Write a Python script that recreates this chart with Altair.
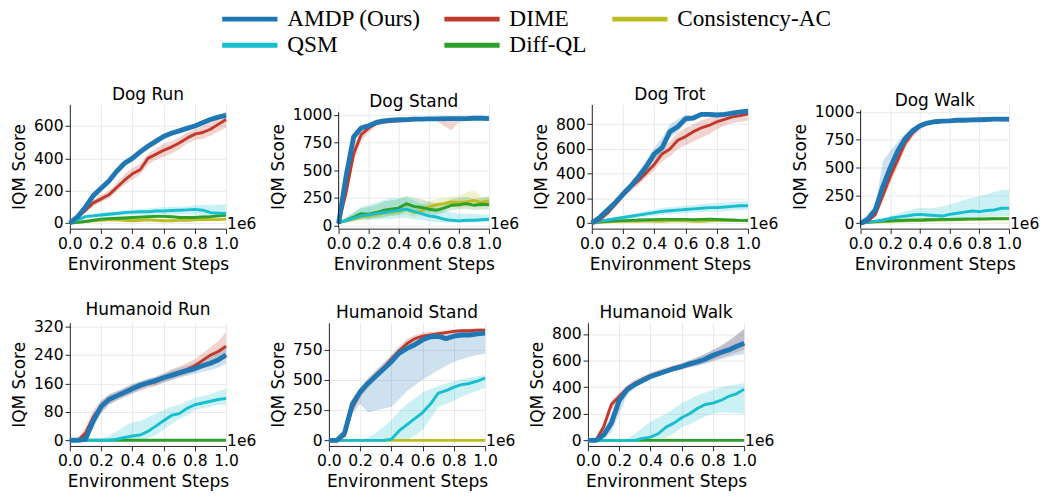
import altair as alt
import pandas as pd

STEPS = [0.0, 0.05, 0.1, 0.15, 0.2, 0.25, 0.3, 0.35, 0.4, 0.45, 0.5,
         0.55, 0.6, 0.65, 0.7, 0.75, 0.8, 0.85, 0.9, 0.95, 1.0]
X_TICKS = [0.0, 0.2, 0.4, 0.6, 0.8, 1.0]

METHODS = ["AMDP (Ours)", "DIME", "Consistency-AC", "QSM", "Diff-QL"]
COLORS = ["#1f77b4", "#c0392b", "#bcbd22", "#17becf", "#2ca02c"]
COLOR_OF = dict(zip(METHODS, COLORS))
DRAW_ORDER = ["Consistency-AC", "Diff-QL", "QSM", "DIME", "AMDP (Ours)"]
LINE_W = {"AMDP (Ours)": 5, "DIME": 3, "Consistency-AC": 3, "QSM": 3, "Diff-QL": 3}

Z = [0] * 21

# each entry: (mean, lower, upper)
DOG_RUN = {
    "AMDP (Ours)": (
        [0, 40, 100, 170, 215, 260, 320, 370, 400, 440, 475, 505, 535, 555, 570, 585, 600, 620, 640, 655, 665],
        [0, 30, 85, 150, 195, 240, 300, 350, 380, 420, 455, 488, 518, 540, 555, 570, 585, 605, 625, 640, 648],
        [0, 50, 115, 185, 230, 278, 340, 390, 420, 460, 495, 522, 552, 570, 585, 600, 615, 635, 655, 670, 685]),
    "DIME": (
        [0, 35, 80, 125, 150, 175, 220, 265, 305, 330, 400, 425, 450, 470, 495, 525, 550, 560, 580, 610, 640],
        [0, 25, 65, 105, 130, 150, 195, 235, 270, 300, 360, 390, 410, 430, 455, 490, 515, 520, 540, 565, 590],
        [0, 45, 95, 145, 175, 200, 250, 300, 340, 365, 430, 460, 490, 505, 530, 560, 580, 600, 620, 650, 690]),
    "QSM": (
        [0, 20, 40, 45, 50, 55, 60, 65, 68, 70, 70, 75, 75, 78, 80, 82, 85, 80, 65, 62, 60],
        [0, 12, 30, 35, 38, 42, 46, 50, 52, 52, 52, 55, 55, 55, 55, 55, 55, 50, 42, 40, 40],
        [0, 28, 52, 58, 64, 70, 75, 80, 84, 88, 90, 95, 98, 100, 102, 105, 110, 112, 112, 115, 115]),
    "Diff-QL": (
        [0, 5, 10, 18, 25, 28, 30, 32, 35, 37, 40, 42, 42, 40, 35, 35, 35, 38, 40, 45, 50],
        [0, 0, 3, 10, 15, 18, 20, 22, 25, 26, 28, 30, 30, 28, 25, 25, 25, 27, 30, 34, 38],
        [0, 10, 18, 26, 35, 38, 40, 43, 45, 48, 52, 54, 55, 52, 47, 46, 46, 50, 52, 56, 62]),
    "Consistency-AC": (
        [0, 5, 10, 15, 18, 20, 20, 18, 15, 18, 20, 18, 15, 15, 17, 18, 20, 22, 22, 22, 25],
        [0, 0, 4, 8, 11, 12, 12, 10, 8, 10, 12, 10, 8, 8, 10, 10, 12, 14, 14, 14, 16],
        [0, 10, 16, 22, 25, 28, 28, 26, 23, 26, 28, 26, 23, 23, 25, 26, 28, 30, 30, 30, 34]),
}

DOG_STAND = {
    "AMDP (Ours)": (
        [20, 450, 800, 880, 900, 930, 945, 950, 955, 955, 960, 960, 962, 962, 965, 965, 965, 965, 968, 968, 965],
        [15, 400, 760, 850, 880, 915, 935, 942, 948, 948, 952, 953, 955, 955, 958, 958, 958, 958, 960, 960, 958],
        [25, 500, 840, 905, 920, 945, 955, 958, 962, 962, 968, 968, 970, 970, 972, 972, 972, 972, 975, 975, 972]),
    "DIME": (
        [20, 300, 650, 820, 880, 920, 935, 940, 945, 950, 955, 958, 960, 960, 955, 960, 960, 962, 965, 965, 965],
        [15, 250, 580, 760, 840, 895, 915, 925, 930, 938, 944, 948, 950, 945, 900, 860, 935, 945, 950, 952, 952],
        [25, 350, 720, 870, 915, 940, 950, 955, 958, 960, 965, 968, 970, 970, 970, 972, 972, 975, 978, 978, 978]),
    "QSM": (
        [30, 50, 70, 90, 100, 110, 120, 130, 140, 150, 130, 110, 90, 80, 60, 50, 45, 50, 50, 55, 60],
        [25, 30, 40, 50, 55, 55, 60, 60, 70, 70, 60, 50, 40, 35, 30, 30, 28, 30, 30, 32, 35],
        [35, 80, 120, 170, 190, 210, 230, 250, 250, 250, 230, 200, 180, 160, 140, 120, 110, 110, 110, 100, 100]),
    "Diff-QL": (
        [30, 50, 80, 110, 105, 120, 140, 150, 160, 200, 175, 165, 150, 140, 160, 185, 190, 200, 185, 195, 190],
        [25, 35, 50, 70, 60, 70, 80, 90, 100, 130, 110, 110, 100, 100, 120, 140, 150, 155, 140, 150, 145],
        [35, 70, 120, 160, 170, 190, 220, 230, 240, 270, 250, 240, 220, 200, 210, 240, 250, 260, 240, 250, 260]),
    "Consistency-AC": (
        [30, 45, 60, 80, 90, 100, 115, 125, 130, 150, 120, 135, 170, 190, 200, 215, 210, 215, 230, 210, 225],
        [25, 35, 45, 55, 65, 70, 80, 90, 95, 105, 80, 95, 130, 150, 160, 170, 165, 170, 180, 170, 180],
        [35, 60, 80, 110, 120, 135, 150, 165, 175, 200, 180, 190, 220, 240, 250, 260, 270, 300, 320, 260, 265]),
}

DOG_TROT = {
    "AMDP (Ours)": (
        [0, 45, 105, 165, 235, 300, 375, 460, 560, 610, 740, 780, 845, 850, 880, 880, 875, 880, 890, 900, 905],
        [0, 35, 90, 145, 210, 270, 335, 420, 510, 560, 690, 740, 810, 830, 860, 862, 860, 865, 875, 885, 890],
        [0, 55, 120, 185, 260, 335, 420, 510, 610, 690, 800, 840, 875, 875, 895, 895, 892, 895, 905, 912, 918]),
    "DIME": (
        [0, 25, 80, 150, 225, 290, 345, 410, 475, 560, 600, 670, 700, 740, 770, 790, 820, 840, 860, 870, 885],
        [0, 15, 65, 130, 200, 260, 310, 370, 430, 500, 540, 600, 630, 660, 690, 720, 760, 790, 810, 820, 830],
        [0, 35, 95, 170, 250, 320, 380, 450, 520, 610, 660, 730, 770, 800, 830, 850, 870, 885, 900, 905, 915]),
    "QSM": (
        [0, 15, 25, 35, 45, 55, 65, 75, 85, 95, 100, 105, 110, 115, 120, 125, 125, 130, 135, 140, 140],
        [0, 8, 15, 22, 30, 38, 45, 52, 60, 68, 72, 76, 80, 84, 88, 92, 92, 95, 100, 105, 105],
        [0, 22, 35, 48, 60, 72, 85, 98, 110, 122, 128, 134, 140, 146, 152, 158, 160, 165, 170, 175, 180]),
    "Diff-QL": (
        [0, 10, 15, 18, 20, 22, 25, 27, 28, 30, 30, 30, 30, 28, 30, 32, 30, 28, 25, 22, 20],
        [0, 5, 9, 12, 13, 15, 17, 19, 20, 21, 21, 21, 21, 20, 21, 23, 21, 20, 18, 15, 13],
        [0, 15, 21, 24, 27, 29, 33, 35, 36, 39, 39, 39, 39, 36, 39, 41, 39, 36, 32, 29, 27]),
    "Consistency-AC": (
        [0, 5, 10, 12, 15, 15, 15, 18, 15, 15, 18, 20, 18, 15, 15, 18, 20, 20, 22, 20, 25],
        [0, 1, 5, 7, 9, 9, 9, 11, 9, 9, 11, 13, 11, 9, 9, 11, 13, 13, 15, 13, 17],
        [0, 9, 15, 17, 21, 21, 21, 25, 21, 21, 25, 27, 25, 21, 21, 25, 27, 27, 29, 27, 33]),
}

DOG_WALK = {
    "AMDP (Ours)": (
        [0, 40, 125, 330, 500, 650, 760, 830, 875, 900, 912, 918, 920, 925, 925, 928, 930, 932, 935, 935, 935],
        [0, 30, 100, 260, 420, 580, 710, 800, 855, 888, 902, 910, 912, 917, 917, 920, 922, 924, 927, 927, 927],
        [0, 50, 160, 560, 650, 730, 800, 860, 895, 912, 922, 926, 928, 933, 933, 936, 938, 940, 943, 943, 943]),
    "DIME": (
        [0, 20, 80, 250, 420, 570, 720, 810, 870, 900, 912, 918, 920, 925, 925, 928, 930, 932, 935, 930, 930],
        [0, 12, 60, 200, 360, 510, 670, 770, 840, 885, 902, 910, 912, 917, 917, 920, 922, 924, 927, 918, 915],
        [0, 28, 100, 300, 480, 630, 770, 850, 900, 915, 922, 926, 928, 933, 933, 936, 938, 940, 943, 940, 940]),
    "QSM": (
        [0, 10, 20, 30, 45, 55, 65, 75, 80, 75, 70, 65, 80, 90, 100, 110, 105, 115, 120, 135, 135],
        [0, 5, 12, 18, 25, 30, 35, 40, 42, 40, 38, 36, 42, 48, 52, 56, 55, 58, 60, 65, 65],
        [0, 18, 30, 45, 65, 85, 105, 125, 140, 135, 140, 150, 170, 190, 210, 230, 240, 260, 280, 300, 300]),
    "Diff-QL": (
        [0, 10, 15, 20, 22, 25, 28, 30, 30, 32, 33, 35, 35, 37, 38, 40, 40, 40, 42, 42, 42],
        [0, 5, 9, 13, 15, 17, 20, 22, 22, 24, 25, 26, 26, 28, 29, 30, 30, 30, 32, 32, 32],
        [0, 15, 21, 27, 29, 33, 36, 38, 38, 40, 41, 44, 44, 46, 47, 50, 50, 50, 52, 52, 52]),
    "Consistency-AC": (
        [0, 8, 12, 15, 18, 20, 22, 25, 25, 28, 30, 30, 32, 32, 35, 35, 35, 38, 38, 38, 40],
        [0, 3, 6, 9, 11, 13, 15, 17, 17, 20, 22, 22, 24, 24, 26, 26, 26, 28, 28, 28, 30],
        [0, 13, 18, 21, 25, 27, 29, 33, 33, 36, 38, 38, 40, 40, 44, 44, 44, 48, 48, 48, 50]),
}

HUMANOID_RUN = {
    "AMDP (Ours)": (
        [0, 0, 3, 55, 95, 115, 125, 135, 145, 155, 162, 168, 176, 183, 190, 196, 202, 210, 217, 226, 240],
        [0, 0, 0, 35, 75, 100, 112, 122, 132, 142, 150, 156, 163, 170, 176, 182, 187, 193, 198, 205, 215],
        [0, 0, 10, 75, 110, 128, 138, 148, 158, 167, 174, 180, 188, 196, 204, 210, 217, 226, 234, 245, 260]),
    "DIME": (
        [0, 0, 20, 65, 95, 115, 125, 135, 145, 152, 160, 165, 175, 185, 192, 200, 210, 225, 240, 250, 265],
        [0, 0, 5, 45, 78, 100, 112, 122, 132, 140, 148, 152, 162, 170, 178, 185, 193, 205, 218, 228, 240],
        [0, 0, 35, 85, 112, 130, 138, 148, 158, 165, 172, 178, 188, 200, 208, 218, 228, 245, 262, 280, 305]),
    "QSM": (
        [0, 0, 0, 0, 0, 0, 3, 8, 12, 15, 25, 40, 55, 70, 75, 90, 100, 105, 110, 115, 118],
        [0, 0, 0, 0, 0, 0, 0, 0, 0, 2, 5, 15, 30, 45, 60, 70, 85, 90, 95, 100, 100],
        [0, 0, 0, 0, 5, 12, 25, 40, 50, 55, 65, 75, 85, 95, 100, 110, 120, 125, 130, 138, 145]),
    "Diff-QL": (Z, Z, Z),
}

HUMANOID_STAND = {
    "AMDP (Ours)": (
        [0, 0, 60, 300, 400, 470, 530, 590, 650, 720, 760, 790, 830, 855, 860, 840, 860, 870, 870, 880, 885],
        [0, 0, 20, 220, 300, 230, 248, 262, 278, 340, 408, 455, 502, 540, 582, 615, 649, 670, 690, 705, 715],
        [0, 0, 90, 340, 440, 510, 570, 630, 700, 760, 800, 830, 860, 880, 885, 870, 885, 895, 895, 905, 910]),
    "DIME": (
        [0, 0, 40, 270, 390, 470, 540, 600, 670, 740, 800, 840, 860, 870, 880, 890, 900, 905, 905, 910, 910],
        [0, 0, 20, 230, 350, 430, 500, 560, 630, 700, 760, 805, 830, 845, 858, 868, 880, 886, 888, 892, 895],
        [0, 0, 60, 310, 430, 510, 580, 640, 710, 780, 840, 870, 890, 895, 902, 910, 918, 922, 922, 926, 926]),
    "QSM": (
        [0, 0, 0, 0, 0, 0, 0, 0, 10, 80, 130, 180, 230, 300, 390, 410, 440, 460, 470, 490, 515],
        [0, 0, 0, 0, 0, 0, 0, 0, 0, 0, 0, 40, 88, 180, 275, 300, 328, 360, 390, 410, 435],
        [0, 0, 0, 0, 5, 25, 61, 110, 168, 240, 300, 350, 395, 425, 449, 470, 489, 505, 515, 530, 542]),
    "Consistency-AC": (Z, Z, Z),
}

HUMANOID_WALK = {
    "AMDP (Ours)": (
        [0, 0, 40, 130, 300, 380, 420, 450, 480, 500, 520, 540, 555, 575, 590, 610, 640, 660, 680, 705, 730],
        [0, 0, 15, 60, 200, 340, 395, 430, 460, 482, 502, 520, 535, 550, 560, 575, 595, 610, 625, 640, 650],
        [0, 0, 70, 200, 340, 410, 445, 470, 500, 520, 540, 560, 578, 600, 625, 650, 680, 710, 750, 790, 835]),
    "DIME": (
        [0, 0, 100, 270, 330, 390, 430, 460, 485, 505, 525, 540, 555, 570, 590, 610, 630, 655, 680, 705, 730],
        [0, 0, 70, 230, 300, 365, 408, 440, 465, 485, 505, 520, 535, 548, 565, 582, 600, 620, 640, 660, 680],
        [0, 0, 130, 300, 360, 415, 455, 485, 510, 530, 550, 565, 580, 600, 625, 650, 680, 710, 745, 790, 840]),
    "QSM": (
        [0, 0, 0, 0, 0, 0, 0, 15, 25, 50, 100, 130, 170, 200, 240, 270, 280, 300, 330, 350, 385],
        [0, 0, 0, 0, 0, 0, 0, 0, 0, 5, 20, 50, 100, 120, 150, 180, 200, 210, 210, 205, 200],
        [0, 0, 0, 0, 0, 10, 50, 95, 140, 170, 200, 240, 280, 310, 340, 360, 380, 400, 410, 420, 430]),
    "Diff-QL": (Z, Z, Z),
}

FONT = "DejaVu Sans"

# legend layout (3 columns x 2 rows, row-major like the reference)
LEGEND_ORDER = ["AMDP (Ours)", "DIME", "Consistency-AC", "QSM", "Diff-QL"]
LEG_COL_X = [157, 386, 559]
LEG_ROW_Y = [12, 39]
LEG_SYMBOL = 57
LEG_GAP = 10


def legend_chart():
    recs = []
    for i, m in enumerate(LEGEND_ORDER):
        c, r = i % 3, i // 3
        x0 = LEG_COL_X[c]
        recs.append({"method": m, "color": COLOR_OF[m], "x0": x0, "x1": x0 + LEG_SYMBOL,
                     "xt": x0 + LEG_SYMBOL + LEG_GAP, "y": LEG_ROW_Y[r]})
    ldf = pd.DataFrame(recs)
    keys = alt.Chart(ldf).mark_rule(strokeWidth=5).encode(
        x=alt.X("x0:Q", scale=None), x2="x1:Q", y=alt.Y("y:Q", scale=None),
        color=alt.Color("color:N", scale=None))
    labels = alt.Chart(ldf).mark_text(
        align="left", baseline="middle", font="Liberation Serif", fontSize=24, color="black"
    ).encode(x=alt.X("xt:Q", scale=None), y=alt.Y("y:Q", scale=None), text="method:N")
    return alt.layer(keys, labels).properties(width=900, height=56)


def panel(name, series, width, height, ydom, yticks, spine_top=None, title_offset=1):
    rows = []
    for m in DRAW_ORDER:
        if m not in series:
            continue
        mean, lo, hi = series[m]
        for s, a, b, c in zip(STEPS, mean, lo, hi):
            rows.append({"step": s, "method": m, "mean": a, "lo": b, "hi": c})
    df = pd.DataFrame(rows)

    xenc = alt.X("step:Q", scale=alt.Scale(domain=[0, 1], nice=False, zero=False),
                 axis=alt.Axis(values=X_TICKS, format=".1f", title="Environment Steps",
                               labelFlush=False, labelOverlap=False))
    yscale = alt.Scale(domain=ydom, nice=False, zero=False)
    yaxis = alt.Axis(values=yticks, title="IQM Score", domain=spine_top is None, format="d",
                     labelOverlap=False, labelFlush=False)

    layers = []
    for m in DRAW_ORDER:
        if m not in series:
            continue
        layers.append(
            alt.Chart(df).transform_filter(alt.datum.method == m)
            .mark_area(opacity=0.22, color=COLOR_OF[m])
            .encode(x=xenc, y=alt.Y("lo:Q", scale=yscale, axis=yaxis), y2="hi:Q")
        )
    for m in DRAW_ORDER:
        if m not in series:
            continue
        layers.append(
            alt.Chart(df).transform_filter(alt.datum.method == m)
            .mark_line(strokeWidth=LINE_W[m], strokeJoin="round", color=COLOR_OF[m])
            .encode(x=xenc, y=alt.Y("mean:Q", scale=yscale, axis=yaxis))
        )
    if spine_top is not None:
        spine = pd.DataFrame({"a": [ydom[0]], "b": [spine_top]})
        layers.append(
            alt.Chart(spine).mark_rule(color="#222222", strokeWidth=1)
            .encode(x=alt.value(0), y=alt.Y("a:Q", scale=yscale, axis=yaxis), y2="b:Q")
        )
    offset_txt = (
        alt.Chart(pd.DataFrame({"t": ["1e6"]}))
        .mark_text(align="left", baseline="alphabetic", font=FONT, fontSize=16, color="black")
        .encode(x=alt.value(width + 1), y=alt.value(height), text="t:N")
    )
    layers.append(offset_txt)
    return alt.layer(*layers).properties(
        width=width, height=height,
        title=alt.Title(name, offset=title_offset, frame="group"),
    )


p1 = panel("Dog Run", DOG_RUN, 161, 128, [-34, 733], [0, 200, 400, 600])
p2 = panel("Dog Stand", DOG_STAND, 155, 128, [-25, 1092], [0, 250, 500, 750, 1000],
           spine_top=1022, title_offset=-6)
p3 = panel("Dog Trot", DOG_TROT, 161, 128, [-45, 960], [0, 200, 400, 600, 800])
p4 = panel("Dog Walk", DOG_WALK, 153, 128, [-48, 1067], [0, 250, 500, 750, 1000],
           spine_top=1015, title_offset=-5)
p5 = panel("Humanoid Run", HUMANOID_RUN, 161, 127, [-16, 331], [0, 80, 160, 240, 320])
p6 = panel("Humanoid Stand", HUMANOID_STAND, 161, 127, [-46, 971], [0, 250, 500, 750])
p7 = panel("Humanoid Walk", HUMANOID_WALK, 161, 127, [-42, 884], [0, 200, 400, 600, 800])

row1 = alt.hconcat(p1, p2, p3, p4, spacing=13)
row2 = alt.hconcat(p5, p6, p7, spacing=13)
grid = alt.vconcat(row1, row2, spacing=28)

chart = (
    alt.vconcat(legend_chart(), grid, spacing=25)
    .properties(padding={"left": 11, "top": 0, "right": 2, "bottom": 2}, background="white")
    .configure_view(stroke=None)
    .configure_axis(
        labelFont=FONT, labelFontSize=16, labelColor="black",
        titleFont=FONT, titleFontSize=17.5, titleFontWeight="normal", titleColor="black",
        tickColor="#222222", tickSize=5, tickWidth=1, labelPadding=2,
        domainColor="#222222", domainWidth=1,
        grid=True, gridColor="#e8e8e8", gridWidth=1, titlePadding=5,
    )
    .configure_title(font=FONT, fontSize=17.5, fontWeight="normal", color="black", anchor="middle")
)

chart.save("out.html", embed_options={"renderer": "svg", "actions": False})
